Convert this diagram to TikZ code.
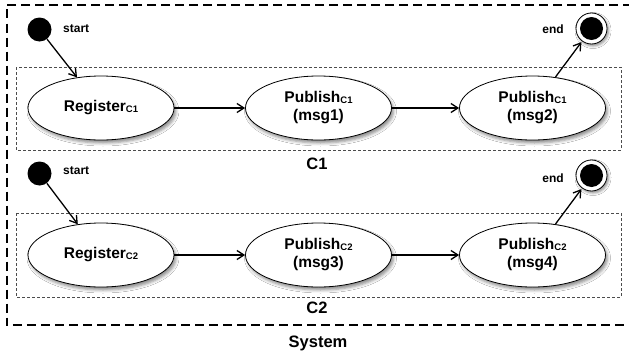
\documentclass[tikz,border=0pt]{standalone}
\usepackage{fontspec}
\setmainfont{Liberation Sans}
\usetikzlibrary{shapes.geometric,arrows.meta,shadows.blur}
\begin{document}
\begin{tikzpicture}[x=1pt,y=-1pt,
  font=\bfseries,
  state/.style={ellipse,draw=black,line width=0.8pt,fill=white,minimum width=146pt,minimum height=64pt,inner sep=0pt,
    align=center,font=\fontsize{15.5}{18}\selectfont\bfseries,
    blur shadow={shadow xshift=2pt,shadow yshift=-3pt,shadow blur radius=3pt,shadow opacity=45}},
  initstate/.style={circle,fill=black,minimum size=24pt,inner sep=0pt},
  finalstate/.style={circle,draw=black,line width=0.8pt,fill=white,minimum size=31pt,inner sep=0pt,
    blur shadow={shadow xshift=1.5pt,shadow yshift=-2pt,shadow blur radius=2.5pt,shadow opacity=45}},
  smalllabel/.style={font=\fontsize{12}{14}\selectfont\bfseries,inner sep=0pt},
  biglabel/.style={font=\fontsize{16.5}{19}\selectfont\bfseries,inner sep=0pt},
  trans/.style={line width=1.3pt,-{Straight Barb[length=7pt,width=9pt]}},
  compbox/.style={draw=black!70,line width=0.7pt,dash pattern=on 3pt off 2pt},
  sysbox/.style={draw=black,line width=2pt,dash pattern=on 9pt off 5pt}
]
\newcommand{\sub}[1]{\raisebox{-0.5pt}{\fontsize{9.5}{10}\selectfont #1}}
\clip (0,0) rectangle (629,356);
\useasboundingbox (0,0) rectangle (629,356);
\fill[white] (0,0) rectangle (629,356);

% outer system box
\draw[sysbox] (660,5) -- (6.5,5) -- (6.5,325) -- (660,325);
\node[biglabel] (sys) at (318,343) {System};

% component boxes
\draw[compbox] (16,67) rectangle (621,150);
\node[biglabel] (c1) at (317,164) {C1};
\draw[compbox] (16,213) rectangle (621,297);
\node[biglabel] (c2) at (317,308) {C2};

% row 1
\node[initstate] (s1) at (39.5,29.5) {};
\node[smalllabel,anchor=west] (s1l) at (63,29) {start};
\node[state] (r1) at (101,108) {Register\sub{C1}};
\node[state] (p1) at (318.5,108) {Publish\sub{C1}\\(msg1)};
\node[state] (p2) at (532.5,108) {Publish\sub{C1}\\(msg2)};
\node[finalstate] (e1) at (591.5,28.5) {};
\fill[black] (e1.center) circle (11.5);
\node[smalllabel,anchor=east] (e1l) at (564,29) {end};

\draw[trans] (s1) -- (r1);
\draw[trans] (r1) -- (p1);
\draw[trans] (p1) -- (p2);
\draw[trans,shorten >=1pt] (p2) -- (e1);

% row 2
\node[initstate] (s2) at (39.5,173.5) {};
\node[smalllabel,anchor=west] (s2l) at (63,171) {start};
\node[state] (r2) at (101,255) {Register\sub{C2}};
\node[state] (p3) at (318.5,255) {Publish\sub{C2}\\(msg3)};
\node[state] (p4) at (532.5,255) {Publish\sub{C2}\\(msg4)};
\node[finalstate] (e2) at (591.5,175.5) {};
\fill[black] (e2.center) circle (11.5);
\node[smalllabel,anchor=east] (e2l) at (564,178) {end};

\draw[trans] (s2) -- (r2);
\draw[trans] (r2) -- (p3);
\draw[trans] (p3) -- (p4);
\draw[trans,shorten >=1pt] (p4) -- (e2);
\end{tikzpicture}
\end{document}
